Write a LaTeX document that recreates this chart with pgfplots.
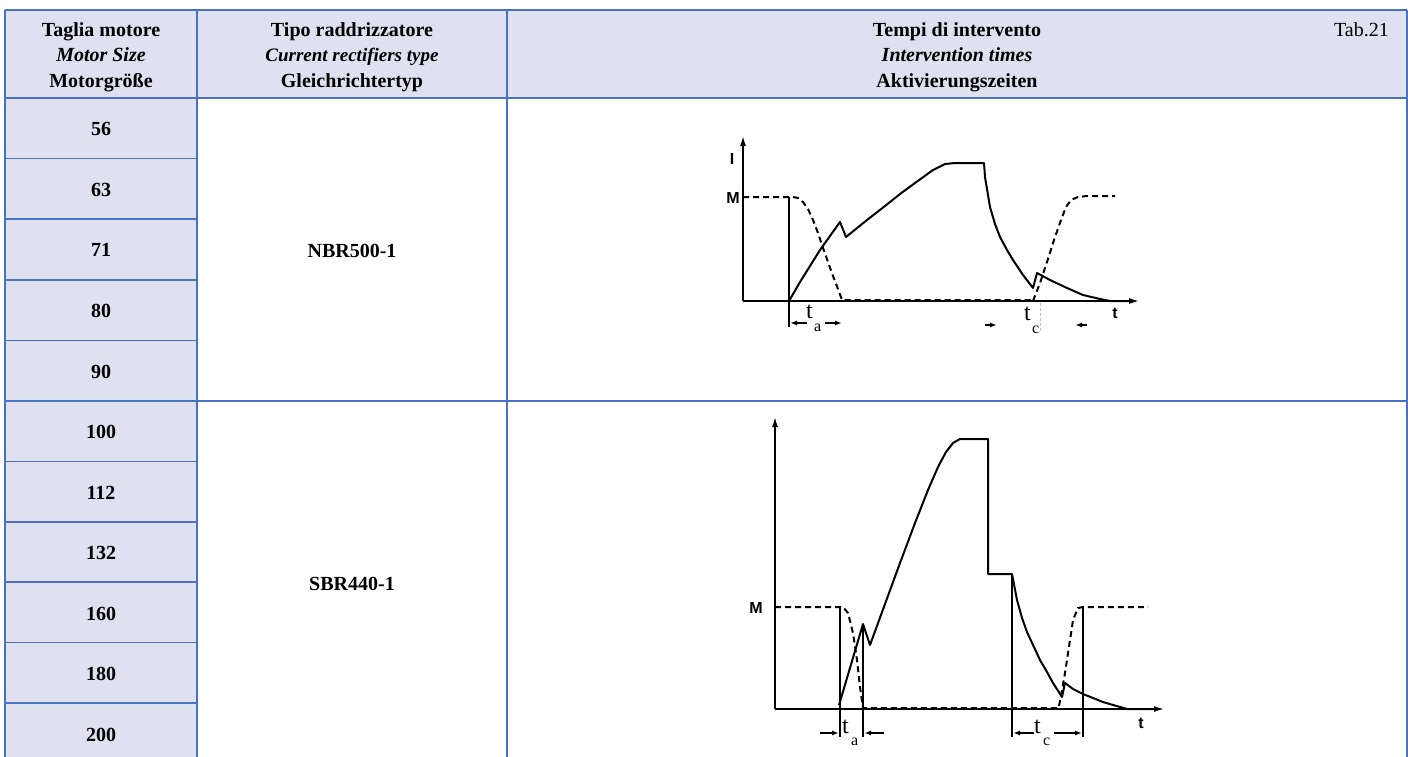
\documentclass[border=0pt]{standalone}
\usepackage{fontspec}
\setmainfont{Liberation Serif}
\setsansfont{Liberation Sans}
\usepackage{pgfplots}
\pgfplotsset{compat=1.18}
\usetikzlibrary{arrows.meta}
\definecolor{hdr}{HTML}{DFE0F0}
\definecolor{bord}{HTML}{4A72C2}
\begin{document}
\begin{tikzpicture}
\begin{axis}[at={(0,0)},anchor=south west,scale only axis,width=1408pt,height=757pt,
  xmin=0,xmax=1408,ymin=0,ymax=757,y dir=reverse,hide axis,clip=false]
% ---------- table ----------
\fill[hdr] (5,10) rectangle (1407,98);
\fill[hdr] (5,98) rectangle (197,780);
\draw[bord,line width=1.5pt] (5,10) -- (1407,10);
\draw[bord,line width=1.5pt] (5,98) -- (1407,98);
\draw[bord,line width=1.5pt] (5,401) -- (1407,401);
\draw[bord,line width=1.5pt] (5,158.6) -- (197,158.6);
\draw[bord,line width=1.5pt] (5,219.2) -- (197,219.2);
\draw[bord,line width=1.5pt] (5,279.8) -- (197,279.8);
\draw[bord,line width=1.5pt] (5,340.4) -- (197,340.4);
\draw[bord,line width=1.5pt] (5,461.4) -- (197,461.4);
\draw[bord,line width=1.5pt] (5,521.8) -- (197,521.8);
\draw[bord,line width=1.5pt] (5,582.2) -- (197,582.2);
\draw[bord,line width=1.5pt] (5,642.6) -- (197,642.6);
\draw[bord,line width=1.5pt] (5,703) -- (197,703);
\draw[bord,line width=1.5pt] (5,10) -- (5,780);
\draw[bord,line width=1.5pt] (197,10) -- (197,780);
\draw[bord,line width=1.5pt] (507,10) -- (507,780);
\draw[bord,line width=1.5pt] (1407,10) -- (1407,780);
% header text
\begin{scope}[every node/.style={anchor=base,inner sep=0pt,font=\fontsize{20}{24}\selectfont\bfseries}]
\node at (101,37) {Taglia motore};
\node[font=\fontsize{20}{24}\selectfont\bfseries\itshape] at (101,62) {Motor Size};
\node at (101,87) {Motorgröße};
\node at (352,37) {Tipo raddrizzatore};
\node[font=\fontsize{19}{24}\selectfont\bfseries\itshape] at (352,62) {Current rectifiers type};
\node at (352,87) {Gleichrichtertyp};
\node at (957,37) {Tempi di intervento};
\node[font=\fontsize{20}{24}\selectfont\bfseries\itshape] at (957,62) {Intervention times};
\node at (957,87) {Aktivierungszeiten};
\node[anchor=base east,font=\fontsize{20}{24}\selectfont] at (1389,37) {Tab.21};
% sizes
\node at (101,135.5) {56};
\node at (101,196) {63};
\node at (101,256.5) {71};
\node at (101,317) {80};
\node at (101,378) {90};
\node at (101,438.5) {100};
\node at (101,499) {112};
\node at (101,559.5) {132};
\node at (101,620) {160};
\node at (101,680.5) {180};
\node at (101,741) {200};
\node at (352,257) {NBR500-1};
\node at (352,590) {SBR440-1};
\end{scope}
% ---------- diagram 1 ----------
\addplot[black,line width=1.5pt,-{Latex[length=10pt,width=6pt]}] coordinates {(743,301) (743,136)};
\addplot[black,line width=1.5pt,-{Latex[length=10pt,width=6pt]}] coordinates {(743,301) (1139,301)};
\addplot[black,line width=1.2pt] coordinates {(789,197) (789,327)};
\addplot[black,line width=2pt,dash pattern=on 6pt off 4pt] coordinates {
 (743,197) (793,197) (798,198) (803,202) (808,209) (813,220) (818,233) (823,248) (828,262) (833,276) (838,289) (842,300) (1033,300)};
\addplot[black,line width=2pt,dash pattern=on 6pt off 4pt] coordinates {
 (1033,301) (1040,283) (1047,262) (1054,240) (1061,220) (1066,207) (1071,200) (1078,197) (1087,196) (1115,196)};
\addplot[black,line width=2pt,line join=round] coordinates {
 (789,301) (800,282) (810,266) (820,250) (830,236) (840,222) (846,237) (867,220) (885,206) (900,194) (915,183) (933,170) (945,164) (955,163) (984,163)
 (985,177) (990,207) (995,224) (1000,237) (1007,250) (1013,260) (1023,275) (1033,288) (1037,273) (1050,280) (1067,288) (1083,295) (1100,299) (1110,301) (1135,301)};
\addplot[black,line width=1.5pt,-{Latex[length=7pt,width=5pt]}] coordinates {(807,323) (790,323)};
\addplot[black,line width=1.5pt,-{Latex[length=7pt,width=5pt]}] coordinates {(825,323) (842,323)};
\addplot[black,line width=1.5pt,-{Latex[length=7pt,width=5pt]}] coordinates {(985,325) (997,325)};
\addplot[black,line width=1.5pt,-{Latex[length=7pt,width=5pt]}] coordinates {(1087,325) (1075,325)};
\addplot[gray!50,line width=0.8pt,densely dashed] coordinates {(1040,303) (1040,332)};
\node[anchor=base west,inner sep=0pt,font=\fontsize{24}{24}\selectfont] at (806,318) {t};
\node[anchor=base west,inner sep=0pt,font=\fontsize{16}{16}\selectfont] at (814,331) {a};
\node[anchor=base west,inner sep=0pt,font=\fontsize{24}{24}\selectfont] at (1024,320) {t};
\node[anchor=base west,inner sep=0pt,font=\fontsize{16}{16}\selectfont] at (1032,333) {c};
\node[anchor=base,inner sep=0pt,font=\fontsize{16}{16}\selectfont\sffamily\bfseries] at (1115,318) {t};
\node[anchor=base,inner sep=0pt,font=\fontsize{16}{16}\selectfont\sffamily\bfseries] at (732,164) {I};
\node[anchor=base,inner sep=0pt,font=\fontsize{16}{16}\selectfont\sffamily\bfseries] at (733,203) {M};
% ---------- diagram 2 ----------
\addplot[black,line width=1.5pt,-{Latex[length=10pt,width=6pt]}] coordinates {(775,709) (775,417)};
\addplot[black,line width=1.5pt,-{Latex[length=10pt,width=6pt]}] coordinates {(775,709) (1164,709)};
\addplot[black,line width=1.2pt] coordinates {(840,607) (840,737)};
\addplot[black,line width=1.2pt] coordinates {(863,624) (863,737)};
\addplot[black,line width=1.2pt] coordinates {(1012,574) (1012,737)};
\addplot[black,line width=1.2pt] coordinates {(1083,607) (1083,737)};
\addplot[black,line width=2pt,dash pattern=on 6pt off 4pt] coordinates {
 (775,607) (843,607) (848,613) (853,633) (857,660) (860,687) (863,708) (1058,708)};
\addplot[black,line width=2pt,dash pattern=on 6pt off 4pt] coordinates {
 (1059,706) (1062,690) (1065,673) (1070,640) (1073,620) (1078,608) (1083,607) (1148,607)};
\addplot[black,line width=2pt,line join=round] coordinates {
 (839,705) (863,624) (870,645) (885,604) (900,563) (915,523) (928,490) (938,467) (946,452) (953,443) (960,439) (988,439)
 (988,574) (1012,574) (1017,600) (1022,618) (1027,632) (1033,645) (1040,660) (1047,672) (1053,683) (1062,697)
 (1065,683) (1073,689) (1083,694) (1093,698) (1103,702) (1113,705) (1127,709) (1155,709)};
\addplot[black,line width=1.5pt,-{Latex[length=7pt,width=5pt]}] coordinates {(820,733) (839,733)};
\addplot[black,line width=1.5pt,-{Latex[length=7pt,width=5pt]}] coordinates {(884,733) (864,733)};
\addplot[black,line width=1.5pt,-{Latex[length=7pt,width=5pt]}] coordinates {(1034,733) (1013,733)};
\addplot[black,line width=1.5pt,-{Latex[length=7pt,width=5pt]}] coordinates {(1054,733) (1082,733)};
\node[anchor=base west,inner sep=0pt,font=\fontsize{24}{24}\selectfont] at (842,733) {t};
\node[anchor=base west,inner sep=0pt,font=\fontsize{16}{16}\selectfont] at (851,745) {a};
\node[anchor=base west,inner sep=0pt,font=\fontsize{24}{24}\selectfont] at (1034,733) {t};
\node[anchor=base west,inner sep=0pt,font=\fontsize{16}{16}\selectfont] at (1043,745) {c};
\node[anchor=base,inner sep=0pt,font=\fontsize{16}{16}\selectfont\sffamily\bfseries] at (1141,728) {t};
\node[anchor=base,inner sep=0pt,font=\fontsize{16}{16}\selectfont\sffamily\bfseries] at (756,613) {M};
\end{axis}
\pgfresetboundingbox
\path[use as bounding box] (0,0) rectangle (1408pt,757pt);
\end{tikzpicture}
\end{document}
